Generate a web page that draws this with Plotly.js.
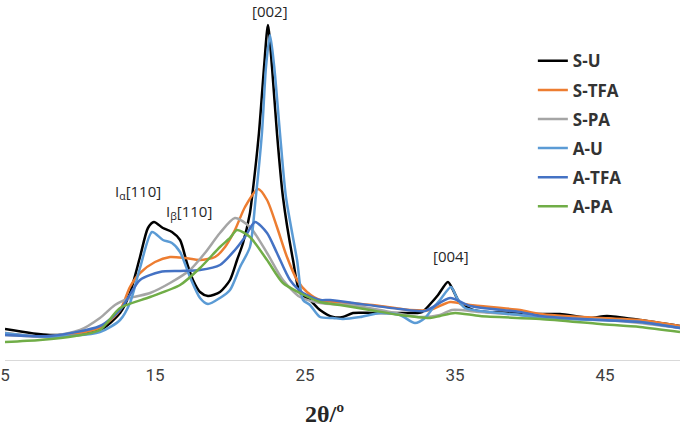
<!DOCTYPE html>
<html>
<head>
<meta charset="utf-8">
<script src="https://cdn.plot.ly/plotly-3.0.1.min.js"></script>
<style>html,body{margin:0;padding:0;background:#fff;}#chart{width:685px;height:430px;}</style>
</head>
<body>
<div id="chart"></div>
<script>
// 2θ (degrees) and relative intensity (arbitrary units) for each sample
const suX = [5.0, 8.0, 11.33, 12.67, 13.33, 14.0, 14.53, 14.93, 15.53, 16.13, 16.67, 17.13, 17.53, 18.0, 18.53, 19.33, 20.0, 20.47, 20.87, 21.33, 21.47, 21.93, 22.27, 22.53, 22.8, 23.13, 23.53, 24.2, 24.67, 25.33, 26.0, 26.87, 27.53, 28.2, 29.53, 31.33, 32.8, 33.47, 33.87, 34.53, 34.87, 35.33, 36.2, 37.13, 39.33, 40.67, 42.0, 44.0, 45.13, 47.33, 50.0];
const suY = [31, 25, 30, 47, 67, 103, 132, 138, 132, 128, 120, 97, 80, 68, 64, 68, 80, 100, 117, 147, 163, 227, 293, 335, 293, 227, 163, 100, 67, 60, 50, 43, 43, 47, 47, 47, 48, 58, 65, 78, 70, 57, 50, 48, 47, 46, 46, 42, 44, 40, 34];

const stfaX = [5.0, 8.0, 11.33, 12.67, 13.33, 14.0, 15.0, 16.0, 17.0, 18.0, 19.0, 19.67, 20.33, 21.0, 21.87, 22.47, 23.13, 23.8, 24.47, 25.13, 26.0, 28.0, 30.0, 32.0, 33.33, 34.67, 36.0, 39.33, 40.67, 44.67, 47.33, 50.0];
const stfaY = [27, 23, 32, 50, 73, 87, 98, 103, 102, 100, 103, 113, 130, 153, 171, 160, 133, 103, 80, 68, 60, 57, 54, 50, 50, 58, 55, 50, 46, 42, 40, 34];

const spaX = [5.0, 8.0, 10.0, 11.33, 12.33, 13.33, 14.67, 16.0, 17.33, 18.33, 19.33, 20.33, 21.33, 22.47, 23.53, 24.67, 26.0, 28.0, 30.0, 32.67, 34.0, 34.8, 36.67, 39.33, 42.0, 45.0, 47.33, 50.0];
const spaY = [25, 24, 30, 42, 55, 62, 67, 77, 90, 107, 127, 142, 133, 107, 80, 63, 57, 55, 50, 43, 45, 50, 48, 45, 42, 40, 37, 32];

const auX = [5.0, 8.0, 11.33, 12.67, 13.33, 14.0, 14.8, 15.53, 16.13, 16.67, 17.33, 18.0, 18.53, 19.33, 20.0, 20.67, 21.33, 21.7, 22.13, 22.4, 22.67, 22.95, 23.33, 23.73, 24.47, 24.87, 25.33, 26.0, 26.87, 27.53, 28.67, 30.0, 31.33, 32.33, 33.0, 33.53, 34.0, 34.73, 35.13, 35.67, 37.33, 39.33, 40.67, 44.67, 47.33, 50.0];
const auY = [27, 23, 28, 40, 57, 92, 128, 120, 117, 108, 83, 62, 56, 62, 70, 93, 113, 160, 227, 293, 325, 293, 227, 163, 100, 60, 55, 43, 42, 41, 43, 47, 45, 37, 42, 52, 60, 73, 62, 52, 48, 45, 42, 40, 38, 32];

const atfaX = [5.0, 8.0, 11.33, 12.67, 14.0, 15.33, 16.67, 18.0, 19.33, 20.33, 21.0, 21.67, 22.47, 23.13, 24.0, 24.87, 26.0, 26.67, 28.67, 31.33, 33.0, 34.67, 36.0, 39.33, 40.67, 44.67, 47.33, 50.0];
const atfaY = [25, 24, 34, 50, 80, 88, 89, 90, 95, 110, 123, 138, 127, 107, 80, 67, 60, 60, 56, 51, 49, 62, 54, 48, 44, 40, 38, 32];

const apaX = [5.0, 7.33, 9.67, 11.33, 12.67, 14.67, 16.67, 18.0, 19.33, 20.0, 20.47, 21.33, 22.47, 23.53, 24.67, 26.0, 27.33, 29.33, 31.33, 33.33, 34.0, 35.0, 36.67, 40.67, 44.67, 47.33, 50.0];
const apaY = [18, 20, 24, 30, 52, 63, 75, 92, 113, 122, 130, 123, 100, 77, 67, 58, 55, 50, 45, 42, 44, 47, 44, 41, 36, 33, 28];

const seriesNames = ['S-U', 'S-TFA', 'S-PA', 'A-U', 'A-TFA', 'A-PA'];
const seriesColors = ['#000000', '#ED7D31', '#A5A5A5', '#5B9BD5', '#4472C4', '#70AD47'];
const seriesX = [suX, stfaX, spaX, auX, atfaX, apaX];
const seriesY = [suY, stfaY, spaY, auY, atfaY, apaY];

const tickVals = [5, 15, 25, 35, 45];

const traces = seriesNames.map((n, i) => ({
  type: 'scatter', mode: 'lines', name: n,
  x: seriesX[i], y: seriesY[i],
  legendgroup: n,
  line: {color: seriesColors[i], width: 2.5, shape: 'spline', smoothing: 0.7}
}));

const annFont = {family: 'Open Sans, Liberation Sans, sans-serif', size: 15, color: '#262626'};
const layout = {
  width: 685, height: 430,
  margin: {l: 5, r: 5, t: 10, b: 70},
  paper_bgcolor: '#ffffff', plot_bgcolor: '#ffffff',
  showlegend: true,
  legend: {
    x: 0.782, y: 0.905, xanchor: 'left', yanchor: 'top',
    traceorder: 'grouped', tracegroupgap: 4,
    font: {family: 'Open Sans, Liberation Sans, sans-serif', size: 17, weight: 'bold', color: '#333333'},
    bgcolor: 'rgba(0,0,0,0)'
  },
  xaxis: {
    range: [5, 50], tickvals: tickVals, ticktext: tickVals.map(String),
    showline: true, linecolor: '#d9d9d9', linewidth: 1,
    showgrid: false, zeroline: false, ticks: '',
    tickfont: {family: 'Roboto, Liberation Sans, sans-serif', size: 17, color: '#404040'},
    title: {text: '2θ/º&nbsp;&nbsp;&nbsp;&nbsp;&nbsp;&nbsp;', font: {family: 'Liberation Serif, serif', size: 24, weight: 'bold', color: '#262626'}, standoff: 20}
  },
  yaxis: {range: [0, 350], visible: false, showgrid: false, zeroline: false},
  annotations: [
    {x: 22.67, y: 0.997, xref: 'x', yref: 'paper', yanchor: 'middle', borderpad: 0, text: '[002]', showarrow: false, font: annFont},
    {x: 13.87, y: 168, xref: 'x', yref: 'y', text: 'I<sub>α</sub>[110]', showarrow: false, font: annFont},
    {x: 17.27, y: 148, xref: 'x', yref: 'y', text: 'I<sub>β</sub>[110]', showarrow: false, font: annFont},
    {x: 34.73, y: 104, xref: 'x', yref: 'y', text: '[004]', showarrow: false, font: annFont}
  ]
};

Plotly.newPlot('chart', traces, layout, {displayModeBar: false, staticPlot: true});
</script>
</body>
</html>
